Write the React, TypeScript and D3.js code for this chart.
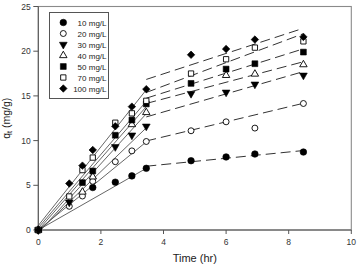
import React from 'react';
import * as d3 from 'd3';

// Sampling times (hr)
const times = [0, 0.99, 1.41, 1.74, 2.46, 2.99, 3.45, 4.88, 6.0, 6.92, 8.47];

const seriesLabels = ['10 mg/L', '20 mg/L', '30 mg/L', '40 mg/L', '50 mg/L', '70 mg/L', '100 mg/L'];

// Adsorbed amount q_t (mg/g) at each sampling time; null = not measured
const q10 = [0, null, null, 4.75, 5.35, 6.05, 6.9, 7.75, 8.17, 8.5, 8.72];
const q20 = [0, 2.65, 3.8, 5.45, 7.64, 8.85, 9.9, 11.1, 12.1, 11.4, 14.15];
const q30 = [0, 3.1, null, null, 9.3, 10.6, 11.6, 15.25, 15.4, 16.3, 17.3];
const q40 = [0, null, 4.25, 5.95, null, 11.8, 13.15, null, 17.3, 17.45, 18.5];
const q50 = [0, null, 5.3, 6.6, 10.6, 12.3, 14.1, 16.4, 18.0, 18.6, 19.9];
const q70 = [0, 3.75, 6.7, 8.1, 12.0, 13.05, 14.45, 17.5, 19.1, 20.4, 21.1];
const q100 = [0, 5.2, 7.2, 8.95, 11.6, 13.8, 15.75, 19.6, 20.25, 21.3, 21.6];

// Linear fits of the two uptake stages: q = intercept + slope * t
const stage1Intercept = [0, 0, -0.2, -0.3, 0, 0.25, 0.5];
const stage1Slope = [2.0, 2.857, 3.371, 3.857, 4.0, 4.1, 4.4];
const stage2Intercept = [5.925, 7.06, 9.165, 10.945, 10.95, 10.865, 12.91];
const stage2Slope = [0.35, 0.84, 1.01, 0.93, 1.1, 1.31, 1.14];

const stageBreak = 3.45;
const stageEnd = 8.45;

const xTicks = [0, 2, 4, 6, 8, 10];
const yTicks = [0, 5, 10, 15, 20, 25];

const seriesValues = [q10, q20, q30, q40, q50, q70, q100];

type Marker = { type: d3.SymbolType; size: number; filled: boolean; rotate: number };
const markers: Marker[] = [
  { type: d3.symbolCircle, size: 34, filled: true, rotate: 0 },
  { type: d3.symbolCircle, size: 28, filled: false, rotate: 0 },
  { type: d3.symbolTriangle, size: 26, filled: true, rotate: 180 },
  { type: d3.symbolTriangle, size: 24, filled: false, rotate: 0 },
  { type: d3.symbolSquare, size: 34, filled: true, rotate: 0 },
  { type: d3.symbolSquare, size: 28, filled: false, rotate: 0 },
  { type: d3.symbolSquare, size: 28, filled: true, rotate: 45 },
];

const W = 359;
const H = 264;
const left = 38.3;
const right = 351.3;
const top = 6.5;
const bottom = 230;

const x = d3.scaleLinear().domain([0, 10]).range([left, right]);
const y = d3.scaleLinear().domain([0, 25]).range([bottom, top]);

const font = 'Arial, "Liberation Sans", sans-serif';

function MarkerShape({ m, cx, cy }: { m: Marker; cx: number; cy: number }) {
  const d = d3.symbol().type(m.type).size(m.size)() as string;
  return (
    <path
      d={d}
      transform={`translate(${cx},${cy}) rotate(${m.rotate})`}
      fill={m.filled ? '#000' : '#fff'}
      stroke="#000"
      strokeWidth={m.filled ? 0.6 : 0.9}
    />
  );
}

export default function App() {
  const fitLine = (a: number, b: number, t0: number, t1: number) => {
    const start = Math.max(t0, a < 0 ? -a / b : t0);
    return d3.line<number>()
      .x((t) => x(t))
      .y((t) => y(a + b * t))([start, t1]) as string;
  };

  const legendRows = seriesLabels.map((_, i) => 22.5 + i * 11);

  return (
    <svg width={W} height={H} style={{ position: 'absolute', left: 0, top: 0 }} fontFamily={font}>
      <rect x={0} y={0} width={W} height={H} fill="#fff" />

      {/* frame */}
      <rect x={left} y={top} width={right - left} height={bottom - top} fill="none" stroke="#8a8a8a" strokeWidth={1.1} />
      <line x1={left} x2={left} y1={top} y2={bottom} stroke="#555" strokeWidth={1} />
      <line x1={left} x2={right} y1={bottom} y2={bottom} stroke="#555" strokeWidth={1} />

      {/* y axis */}
      {yTicks.map((v) => (
        <g key={`y${v}`}>
          <line x1={left - 5} x2={left} y1={y(v)} y2={y(v)} stroke="#555" />
          <text x={left - 7.5} y={y(v) + 3} fontSize={8.5} textAnchor="end" fill="#333">{v}</text>
        </g>
      ))}
      {/* x axis */}
      {xTicks.map((v) => (
        <g key={`x${v}`}>
          <line x1={x(v)} x2={x(v)} y1={bottom} y2={bottom + 4} stroke="#555" />
          <text x={x(v)} y={bottom + 15.3} fontSize={8.5} textAnchor="middle" fill="#333">{v}</text>
        </g>
      ))}

      <text x={(left + right) / 2} y={261.5} fontSize={11} textAnchor="middle" fill="#222">Time (hr)</text>
      <text transform={`translate(9.5,${(top + bottom) / 2}) rotate(-90)`} fontSize={10.5} textAnchor="middle" fill="#222">
        q<tspan fontSize={7.5} dy={2.5}>t</tspan><tspan dy={-2.5}> (mg/g)</tspan>
      </text>

      {/* stage 1 fits (solid) */}
      {seriesLabels.map((_, i) => (
        <path key={`s1${i}`} d={fitLine(stage1Intercept[i], stage1Slope[i], 0, stageBreak)} fill="none" stroke="#555" strokeWidth={0.9} />
      ))}
      {/* stage 2 fits (dashed) */}
      {seriesLabels.map((_, i) => (
        <path key={`s2${i}`} d={fitLine(stage2Intercept[i], stage2Slope[i], stageBreak, stageEnd)} fill="none" stroke="#333" strokeWidth={1} strokeDasharray="10,5" />
      ))}

      {/* data points */}
      {seriesValues.map((vals, i) =>
        vals.map((v, j) =>
          v === null ? null : <MarkerShape key={`p${i}-${j}`} m={markers[i]} cx={x(times[j])} cy={y(v)} />
        )
      )}

      {/* legend */}
      <rect x={49.5} y={12.5} width={59} height={86} fill="#fff" stroke="#555" strokeWidth={1} />
      {seriesLabels.map((lab, i) => (
        <g key={`l${i}`}>
          <MarkerShape m={markers[i]} cx={63.3} cy={legendRows[i]} />
          <text x={106.5} y={legendRows[i] + 3} fontSize={8} textAnchor="end" fill="#222">{lab}</text>
        </g>
      ))}
    </svg>
  );
}
